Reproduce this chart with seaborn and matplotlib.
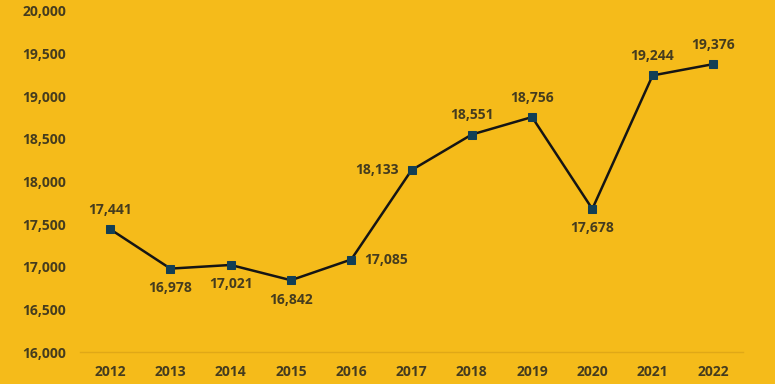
import matplotlib
matplotlib.use("Agg")
import matplotlib.pyplot as plt
import seaborn as sns
import pandas as pd

# Datos
years = ["2012", "2013", "2014", "2015", "2016", "2017", "2018", "2019", "2020", "2021", "2022"]
values = [17441, 16978, 17021, 16842, 17085, 18133, 18551, 18756, 17678, 19244, 19376]
# posicion de cada etiqueta respecto al punto
label_pos = ["above", "below", "below", "below", "right", "left", "above", "above", "below", "above", "above"]
y_ticks = [16000, 16500, 17000, 17500, 18000, 18500, 19000, 19500, 20000]

bg = "#F5BB1A"
txt = "#453C1E"

sns.set_style("white")
plt.rcParams['font.family'] = ['Open Sans', 'DejaVu Sans']

df = pd.DataFrame({"year": years, "value": values})
df["x"] = range(len(df))

fig = plt.figure(figsize=(7.75, 3.84), dpi=100)
fig.patch.set_facecolor(bg)
ax = fig.add_axes([80/775, 1-352/384, (743-80)/775, (352-11)/384])
ax.set_facecolor(bg)

sns.lineplot(data=df, x="x", y="value", ax=ax, color="#151515", linewidth=1.8,
             marker="s", markersize=6, markerfacecolor="#123F55",
             markeredgecolor="#123F55", zorder=3)

offsets = {"above": (0, 9, "center", "bottom"),
           "below": (0, -9, "center", "top"),
           "right": (9, 0, "left", "center"),
           "left": (-9, 0, "right", "center")}
for x, v, p in zip(df["x"], values, label_pos):
    dx, dy, ha, va = offsets[p]
    ax.annotate(f"{v:,}", (x, v), xytext=(dx, dy), textcoords="offset points",
                ha=ha, va=va, fontsize=10, fontweight="bold", color=txt)

ax.set_xlim(-0.5, 10.5)
ax.set_ylim(16000, 20000)
ax.set_xticks(df["x"])
ax.set_xticklabels(years)
ax.set_yticks(y_ticks)
ax.set_yticklabels([f"{t:,}" for t in y_ticks])
ax.tick_params(axis="both", length=0, labelsize=10, colors=txt)
ax.tick_params(axis="y", pad=10)
ax.tick_params(axis="x", pad=9)
for lab in ax.get_xticklabels() + ax.get_yticklabels():
    lab.set_fontweight("bold")
ax.set_xlabel("")
ax.set_ylabel("")
sns.despine(ax=ax, left=True, top=True, right=True)
ax.spines["bottom"].set_color("#E0A817")
ax.spines["bottom"].set_linewidth(1)

fig.savefig("out.png", dpi=100, facecolor=bg)
